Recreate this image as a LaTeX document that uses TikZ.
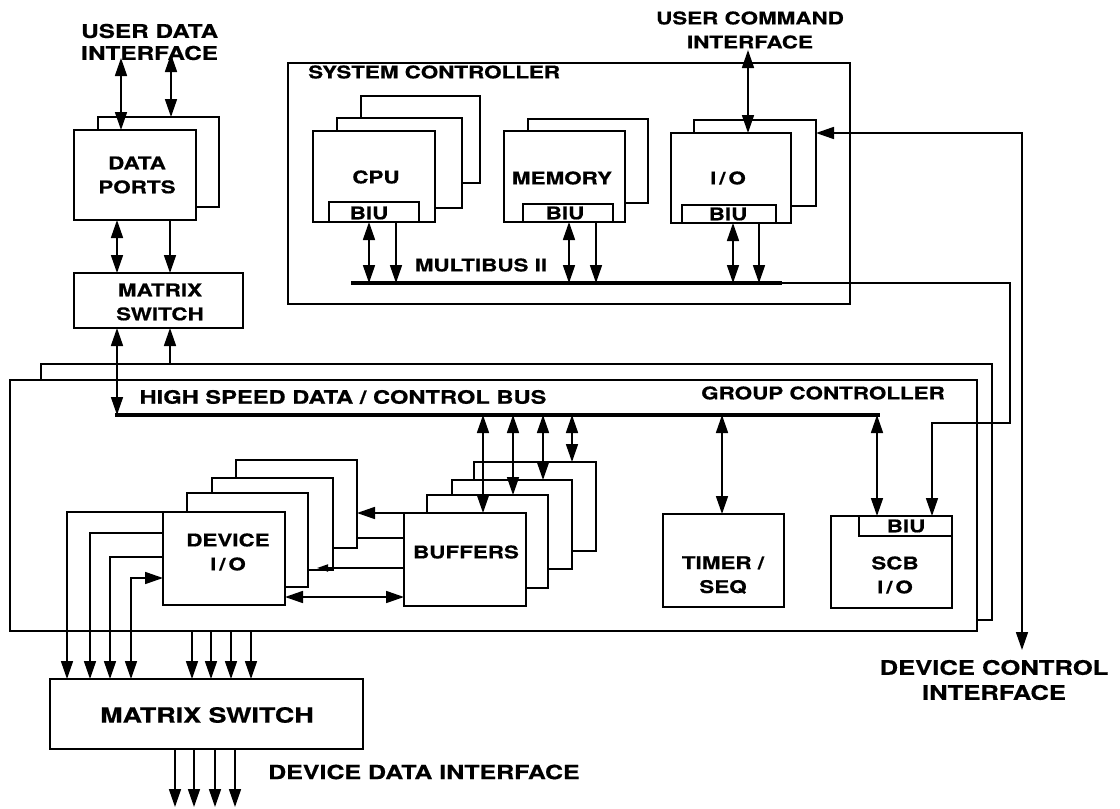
\documentclass[tikz,border=0pt]{standalone}
\usepackage{fontspec}
\setmainfont{TeX Gyre Heros}[FakeStretch=1.28,FakeBold=0.6]
\usetikzlibrary{arrows.meta,fit}
\newcommand\lbl{\bfseries\fontsize{17.5}{24}\selectfont}
\newcommand\lblbig{\bfseries\fontsize{20}{25}\selectfont}
\newcommand\mybox[3]{\node[box,fit={#2 #3}] (#1) {};}
\tikzset{
  box/.style={draw, line width=1.7pt, fill=white, inner sep=0pt, outer sep=0pt},
  conn/.style={line width=1.7pt},
  busline/.style={line width=3.6pt},
  lab/.style={font=\lbl, inner sep=0pt, align=center},
  labbig/.style={font=\lblbig, inner sep=0pt, align=center},
  smalltip/.style={-{Triangle[length=11pt,width=7pt]}},
}
\begin{document}
\begin{tikzpicture}[x=1pt,y=-1pt,>={Triangle[length=18pt,width=12pt]}]
\useasboundingbox (0,0) rectangle (1120,809);

% ---------- data ports and small matrix switch
\mybox{dp2}{(98,117)}{(219,207)}
\mybox{dp1}{(74,130)}{(196,220)}
\mybox{ms1}{(74,273)}{(243,328)}

% ---------- system controller
\mybox{sys}{(288,63)}{(850,304)}
\mybox{cpu3}{(361,96)}{(480,183)}
\mybox{cpu2}{(337,118)}{(462,208)}
\mybox{cpu1}{(313,131)}{(435,222)}
\mybox{cpubiu}{(329,202)}{(419,222)}
\mybox{mem2}{(528,119)}{(648,203)}
\mybox{mem1}{(504,131)}{(625,222)}
\mybox{membiu}{(523,204)}{(613,222)}
\mybox{iob}{(694,120)}{(816,206)}
\mybox{io1}{(671,133)}{(791,223)}
\mybox{iobiu}{(682,205)}{(776,223)}

% ---------- group controller
\mybox{gc2}{(41,364)}{(992,620)}
\mybox{gc1}{(10,380)}{(977,631)}
\mybox{dev4}{(236,460)}{(357,548)}
\mybox{dev3}{(212,478)}{(333,570)}
\mybox{dev2}{(187,493)}{(308,587)}
\mybox{dev1}{(163,512)}{(285,605)}
\mybox{buf4}{(474,462)}{(596,551)}
\mybox{buf3}{(452,480)}{(572,569)}
\mybox{buf2}{(427,495)}{(548,588)}
\mybox{buf1}{(404,513)}{(526,606)}
\mybox{tim}{(663,514)}{(784,607)}
\mybox{scb}{(831,516)}{(952,608)}
\mybox{scbbiu}{(859,516)}{(952,536)}

% ---------- bottom matrix switch
\mybox{bms}{(50,679)}{(363,749)}

% ---------- buses
\coordinate (hsbL) at (115,415);
\coordinate (hsbR) at (880,415);
\draw[busline] (hsbL) -- (hsbR);
\coordinate (mbL) at (351,283);
\coordinate (mbE) at (782,283);
\draw[busline] (mbL) -- (mbE);

% ---------- coordinates for connector columns
\coordinate (ud1) at (121,58);
\coordinate (ud2) at (171,54);
\coordinate (xa) at (117,0);
\coordinate (xb) at (170,0);
\coordinate (c1) at (369,0);
\coordinate (c2) at (396,0);
\coordinate (m1) at (569,0);
\coordinate (m2) at (596,0);
\coordinate (i1) at (733,0);
\coordinate (i2) at (759,0);
\coordinate (uc) at (748,50);
\coordinate (dc) at (1022,133);
\coordinate (dcEnd) at (1022,650);
\coordinate (sca) at (1010,423);
\coordinate (scd) at (932,423);
\coordinate (b1) at (483,0);
\coordinate (b2) at (513,0);
\coordinate (b3) at (543,0);
\coordinate (b4) at (572,0);
\coordinate (t1) at (722,0);
\coordinate (s1) at (877,0);
\coordinate (l1) at (67,0);
\coordinate (l2) at (90,0);
\coordinate (l3) at (110,0);
\coordinate (l4) at (131,0);
\coordinate (g1) at (192,0);
\coordinate (g2) at (211,0);
\coordinate (g3) at (231,0);
\coordinate (g4) at (251,0);
\coordinate (o1) at (175,807);
\coordinate (o2) at (194,807);
\coordinate (o3) at (215,807);
\coordinate (o4) at (235,807);
\coordinate (a3) at (317,568);
\coordinate (db) at (404,597);

% ---------- connectors: user data side
\draw[conn,<->] (ud1) -- (ud1 |- dp1.north);
\draw[conn,<->] (ud2) -- (ud2 |- dp2.north);
\draw[conn,<->] (xa |- dp1.south) -- (xa |- ms1.north);
\draw[conn,->] (xb |- dp1.south) -- (xb |- ms1.north);
\draw[conn,<->] (xa |- ms1.south) -- (xa |- hsbL);
\draw[conn,->] (xb |- gc2.north) -- (xb |- ms1.south);

% ---------- system controller connectors
\draw[conn,<->] (c1 |- cpu1.south) -- (c1 |- mbL);
\draw[conn,->] (c2 |- cpu1.south) -- (c2 |- mbL);
\draw[conn,<->] (m1 |- mem1.south) -- (m1 |- mbL);
\draw[conn,->] (m2 |- mem1.south) -- (m2 |- mbL);
\draw[conn,<->] (i1 |- io1.south) -- (i1 |- mbL);
\draw[conn,->] (i2 |- io1.south) -- (i2 |- mbL);
\draw[conn,<->] (uc) -- (uc |- io1.north);
\draw[conn,<->] (iob.east |- dc) -- (dc) -- (dcEnd);
\draw[conn,->] (mbE) -| (sca) -- (scd) -- (scd |- scbbiu.north);

% ---------- group controller connectors
\draw[conn,<->] (b1 |- hsbL) -- (b1 |- buf1.north);
\draw[conn,<->] (b2 |- hsbL) -- (b2 |- buf2.north);
\draw[conn,<->] (b3 |- hsbL) -- (b3 |- buf3.north);
\draw[conn,<->] (b4 |- hsbL) -- (b4 |- buf4.north);
\draw[conn,<->] (t1 |- hsbL) -- (t1 |- tim.north);
\draw[conn,<->] (s1 |- hsbL) -- (s1 |- scbbiu.north);

\draw[conn,->] (buf1.north west) -- (dev4.east |- buf1.north west);
\draw[conn] ([yshift=-25pt]buf1.north west) -- (dev4.east |- 0,538);
\draw[conn,smalltip] ([yshift=-55pt]buf1.north west) -- (a3);
\draw[conn,<->] (dev1.east |- db) -- (db);

\draw[conn,->] (dev1.north west) -| (l1 |- bms.north);
\draw[conn,->] ([yshift=-21pt]dev1.north west) -| (l2 |- bms.north);
\draw[conn,->] ([yshift=-45pt]dev1.north west) -| (l3 |- bms.north);
\draw[conn,<->] ([yshift=-66pt]dev1.north west) -| (l4 |- bms.north);

\draw[conn,->] (g1 |- gc1.south) -- (g1 |- bms.north);
\draw[conn,->] (g2 |- gc1.south) -- (g2 |- bms.north);
\draw[conn,->] (g3 |- gc1.south) -- (g3 |- bms.north);
\draw[conn,->] (g4 |- gc1.south) -- (g4 |- bms.north);

\draw[conn,->] (o1 |- bms.south) -- (o1);
\draw[conn,->] (o2 |- bms.south) -- (o2);
\draw[conn,->] (o3 |- bms.south) -- (o3);
\draw[conn,->] (o4 |- bms.south) -- (o4);

% ---------- labels
\node[lab,align=left,anchor=west,font=\bfseries\fontsize{19}{22}\selectfont] (tud) at (81,42) {USER DATA\\INTERFACE};
\node[lab] (tdp) at (137,175) {DATA\\PORTS};
\node[lab] (tms1) at (160,302) {MATRIX\\SWITCH};
\node[lab,anchor=west] (tsys) at (308,72) {SYSTEM CONTROLLER};
\node[lab] (tcpu) at (376,177) {CPU};
\node[lab] (tmem) at (562,178) {MEMORY};
\node[lab] (tio) at (728,178) {I\,/\,O};
\node[lab] (tb1) at (369,213) {BIU};
\node[lab] (tb2) at (565,213) {BIU};
\node[lab] (tb3) at (728,214) {BIU};
\node[lab] (tmb) at (481,265) {MULTIBUS II};
\node[lab] (tuc) at (750,30) {USER COMMAND\\INTERFACE};
\node[lab,font=\bfseries\fontsize{18.5}{24}\selectfont] (ths) at (343,397) {HIGH SPEED DATA / CONTROL BUS};
\node[lab] (tgc) at (823,393) {GROUP CONTROLLER};
\node[lab] (tdev) at (228,552) {DEVICE\\I\,/\,O};
\node[lab] (tbuf) at (466,552) {BUFFERS};
\node[lab] (ttim) at (723,575) {TIMER /\\SEQ};
\node[lab] (tscb) at (895,575) {SCB\\I\,/\,O};
\node[lab] (tb4) at (906,526) {BIU};
\node[labbig,font=\bfseries\fontsize{21}{25}\selectfont] (tbms) at (207,715) {MATRIX SWITCH};
\node[labbig,font=\bfseries\fontsize{19.5}{25}\selectfont,anchor=west] (tddi) at (268,772) {DEVICE DATA INTERFACE};
\node[labbig] (tdci) at (994,680) {DEVICE CONTROL\\INTERFACE};
\end{tikzpicture}
\end{document}
